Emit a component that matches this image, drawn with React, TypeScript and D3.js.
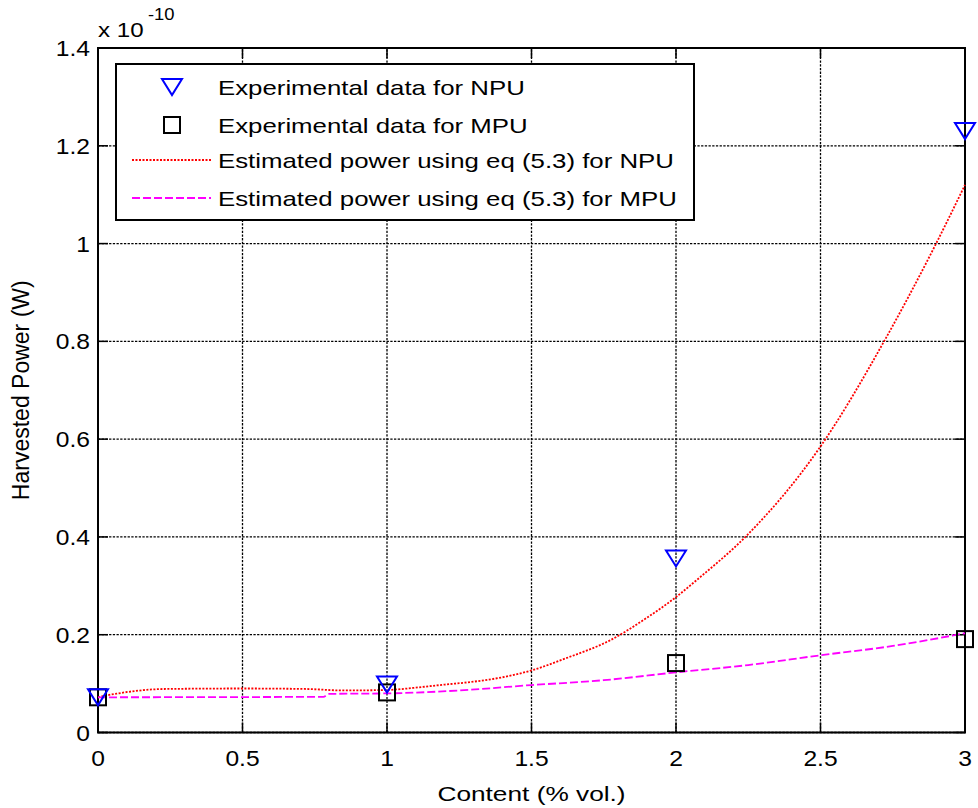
import React from "react";
import * as d3 from "d3";

// ---- data (values in units of 1e-10 W) ----
const npuX = [0, 1, 2, 3];
const npuY = [0.072, 0.098, 0.356, 1.23];
const mpuX = [0, 1, 2, 3];
const mpuY = [0.072, 0.082, 0.142, 0.191];
const npuFitX = [0, 0.03, 0.07, 0.13, 0.23, 0.5, 0.72, 0.85, 1.0, 1.12, 1.2, 1.3, 1.4, 1.5, 1.62, 1.77, 1.9, 2.0, 2.08, 2.24, 2.5, 2.72, 2.9, 3.0];
const npuFitY = [0.072, 0.076, 0.08, 0.085, 0.089, 0.09, 0.089, 0.086, 0.087, 0.093, 0.098, 0.104, 0.113, 0.127, 0.152, 0.188, 0.235, 0.277, 0.316, 0.4, 0.585, 0.8, 1.0, 1.12];
const mpuFitX = [0, 0.78, 0.8, 1.0, 1.25, 1.5, 1.75, 2.0, 2.25, 2.5, 2.75, 3.0];
const mpuFitY = [0.072, 0.073, 0.079, 0.08, 0.086, 0.097, 0.107, 0.123, 0.138, 0.158, 0.177, 0.203];
const xTicks = [0, 0.5, 1, 1.5, 2, 2.5, 3];
const xTickLabels = ["0", "0.5", "1", "1.5", "2", "2.5", "3"];
const yTicks = [0, 0.2, 0.4, 0.6, 0.8, 1, 1.2, 1.4];
const yTickLabels = ["0", "0.2", "0.4", "0.6", "0.8", "1", "1.2", "1.4"];
const legendLabels = [
  "Experimental data for NPU",
  "Experimental data for MPU",
  "Estimated power using eq (5.3) for NPU",
  "Estimated power using eq (5.3) for MPU",
];

const FONT = "'Liberation Sans', Arial, Helvetica, sans-serif";
const L = 98, R = 965, T = 48, B = 732.5;

function SText({ x, y, sx = 1.2, size = 21, anchor = "start", children }: any) {
  return (
    <text
      transform={`translate(${x},${y}) scale(${sx},1)`}
      textAnchor={anchor}
      fontFamily={FONT}
      fontSize={size}
      fill="#000"
    >
      {children}
    </text>
  );
}

function Tri({ cx, cy }: any) {
  const w = 20, h = 16;
  return (
    <path
      d={`M${cx - w / 2},${cy - h / 2}L${cx + w / 2},${cy - h / 2}L${cx},${cy + h / 2}Z`}
      fill="none"
      stroke="#0000ff"
      strokeWidth={2}
    />
  );
}
function Sq({ cx, cy }: any) {
  const s = 16;
  return <rect x={cx - s / 2} y={cy - s / 2} width={s} height={s} fill="none" stroke="#000" strokeWidth={2} />;
}

export default function App() {
  const x = d3.scaleLinear().domain([0, 3]).range([L, R]);
  const y = d3.scaleLinear().domain([0, 1.4]).range([B, T]);
  const line = d3
    .line<[number, number]>()
    .x((d) => x(d[0]))
    .y((d) => y(d[1]))
    .curve(d3.curveMonotoneX);
  const npuFit = line(npuFitX.map((v, i) => [v, npuFitY[i]]) as [number, number][]) || "";
  const mpuFit = line(mpuFitX.map((v, i) => [v, mpuFitY[i]]) as [number, number][]) || "";
  const tl = 10;

  const legX = 116, legY = 64, legW = 578, legH = 156;
  const rows = [87, 125, 160, 198];

  return (
    <svg width={978} height={808} style={{ position: "absolute", left: 0, top: 0, background: "#fff" }}>
      <rect x={0} y={0} width={978} height={808} fill="#fff" />
      {/* grid */}
      {xTicks.map((t) => (
        <line key={"gx" + t} x1={x(t)} x2={x(t)} y1={B} y2={T} stroke="#000" strokeWidth={1.3} strokeDasharray="2.3,1.4" />
      ))}
      {yTicks.map((t) => (
        <line key={"gy" + t} x1={L} x2={R} y1={y(t)} y2={y(t)} stroke="#000" strokeWidth={1.3} strokeDasharray="2.3,1.4" />
      ))}
      {/* ticks */}
      {xTicks.map((t) => (
        <g key={"tx" + t}>
          <line x1={x(t)} x2={x(t)} y1={B} y2={B - tl} stroke="#000" strokeWidth={1.5} />
          <line x1={x(t)} x2={x(t)} y1={T} y2={T + tl} stroke="#000" strokeWidth={1.5} />
        </g>
      ))}
      {yTicks.map((t) => (
        <g key={"ty" + t}>
          <line x1={L} x2={L + tl} y1={y(t)} y2={y(t)} stroke="#000" strokeWidth={1.5} />
          <line x1={R} x2={R - tl} y1={y(t)} y2={y(t)} stroke="#000" strokeWidth={1.5} />
        </g>
      ))}
      {/* axes box */}
      <rect x={L} y={T} width={R - L} height={B - T} fill="none" stroke="#000" strokeWidth={2} />

      {/* fitted curves */}
      <path d={npuFit} fill="none" stroke="#ff0000" strokeWidth={1.8} strokeDasharray="2,1.5" />
      <path d={mpuFit} fill="none" stroke="#ff00ff" strokeWidth={1.8} strokeDasharray="8,3" />

      {/* markers */}
      {mpuX.map((v, i) => (
        <Sq key={"m" + i} cx={x(v)} cy={y(mpuY[i])} />
      ))}
      {npuX.map((v, i) => (
        <Tri key={"n" + i} cx={x(v)} cy={y(npuY[i])} />
      ))}

      {/* tick labels */}
      {xTicks.map((t, i) => (
        <SText key={"xl" + t} x={x(t)} y={766} anchor="middle" size={22} sx={1.12}>
          {xTickLabels[i]}
        </SText>
      ))}
      {yTicks.map((t, i) => (
        <SText key={"yl" + t} x={90} y={y(t) + 8} anchor="end" size={22} sx={1.12}>
          {yTickLabels[i]}
        </SText>
      ))}

      {/* exponent */}
      <SText x={98} y={37} size={21} sx={1.15}>x 10</SText>
      <SText x={148} y={20} size={16} sx={1.15}>-10</SText>

      {/* axis labels */}
      <SText x={(L + R) / 2} y={801} anchor="middle" size={21} sx={1.25}>Content (% vol.)</SText>
      <text
        transform={`translate(29,${(T + B) / 2}) rotate(-90)`}
        textAnchor="middle"
        fontFamily={FONT}
        fontSize={23}
        fill="#000"
      >
        Harvested Power (W)
      </text>

      {/* legend */}
      <rect x={legX} y={legY} width={legW} height={legH} fill="#fff" stroke="#000" strokeWidth={2} />
      <Tri cx={172} cy={rows[0]} />
      <Sq cx={172} cy={rows[1]} />
      <line x1={132} x2={211} y1={rows[2]} y2={rows[2]} stroke="#ff0000" strokeWidth={1.8} strokeDasharray="2,1.5" />
      <line x1={132} x2={211} y1={rows[3]} y2={rows[3]} stroke="#ff00ff" strokeWidth={1.8} strokeDasharray="8,3" />
      {legendLabels.map((s, i) => (
        <SText key={"lg" + i} x={218} y={rows[i] + 7.5} size={20} sx={1.29}>
          {s}
        </SText>
      ))}
    </svg>
  );
}
